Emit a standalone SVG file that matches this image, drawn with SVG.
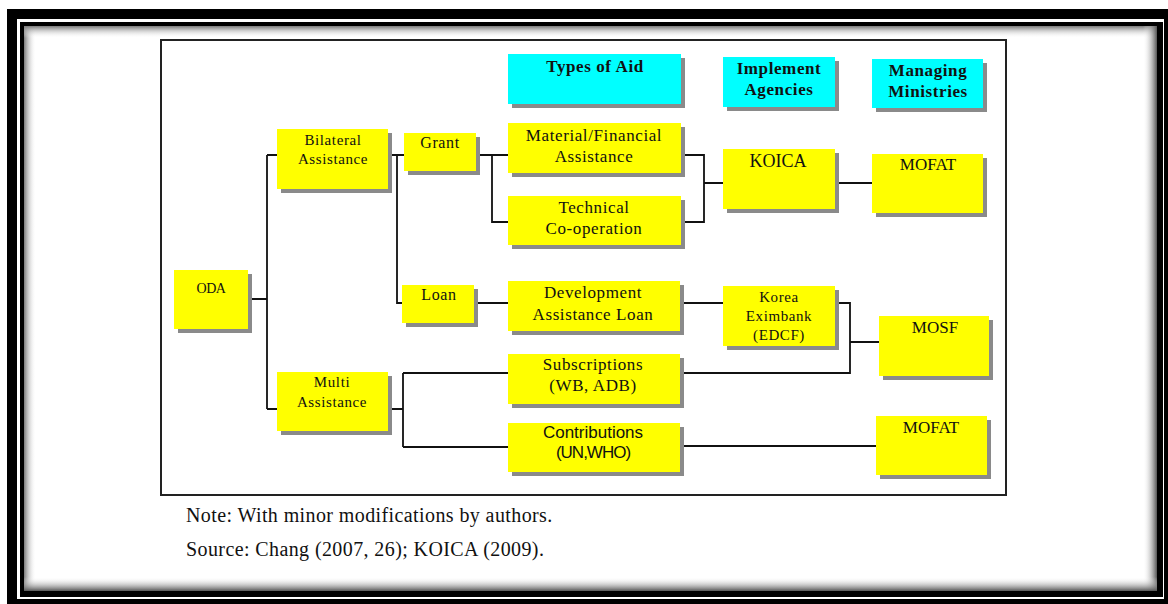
<svg xmlns="http://www.w3.org/2000/svg" width="1168" height="604" viewBox="0 0 1168 604">
<defs>
<linearGradient id="gL" x1="0" y1="0" x2="1" y2="0"><stop offset="0" stop-color="#7a7a7a"/><stop offset="1" stop-color="#fff" stop-opacity="0"/></linearGradient>
<linearGradient id="gT" x1="0" y1="0" x2="0" y2="1"><stop offset="0" stop-color="#7a7a7a"/><stop offset="1" stop-color="#fff" stop-opacity="0"/></linearGradient>
<linearGradient id="gR" x1="1" y1="0" x2="0" y2="0"><stop offset="0" stop-color="#555"/><stop offset="1" stop-color="#fff" stop-opacity="0"/></linearGradient>
<linearGradient id="gB" x1="0" y1="1" x2="0" y2="0"><stop offset="0" stop-color="#555"/><stop offset="1" stop-color="#fff" stop-opacity="0"/></linearGradient>
</defs>
<style>
.sh{fill:#8a8a8a}
.y{fill:#ffff00}
.c{fill:#00ffff}
.t{font-family:"Liberation Serif",serif;font-size:17px;letter-spacing:.6px;fill:#111;text-anchor:middle}
.s{font-family:"Liberation Serif",serif;font-size:15px;letter-spacing:.6px;fill:#111;text-anchor:middle}
.h{font-family:"Liberation Serif",serif;font-size:17px;font-weight:bold;letter-spacing:.6px;fill:#111;text-anchor:middle}
.a{font-family:"Liberation Sans",sans-serif;font-size:17px;fill:#111;text-anchor:middle}
.n{font-family:"Liberation Serif",serif;font-size:20px;letter-spacing:.4px;fill:#111}
.ln{fill:none;stroke:#111;stroke-width:1.8}
</style>
<g id="frame">
<rect x="7" y="9" width="1161" height="595" fill="#000"/>
<rect x="17" y="19" width="1147" height="580" fill="#fff"/>
<rect x="20" y="22" width="1143" height="575" fill="#000"/>
<rect x="24" y="26" width="1133" height="565" fill="#fff"/>
<rect x="24" y="26" width="12" height="565" fill="url(#gL)"/>
<rect x="24" y="26" width="1133" height="12" fill="url(#gT)"/>
<rect x="1143" y="26" width="14" height="565" fill="url(#gR)"/>
<rect x="24" y="577" width="1133" height="14" fill="url(#gB)"/>
<rect x="161" y="40" width="845" height="455" fill="#fff" stroke="#222" stroke-width="2"/>
</g>
<g id="connectors">
<path class="ln" d="M248,299H267M267,155V409M267,155H277M267,409H277"/>
<path class="ln" d="M388,155H404M397,155V303H402"/>
<path class="ln" d="M476,155H508M492,155V222H508"/>
<path class="ln" d="M681,155H704V222H681M704,183H723"/>
<path class="ln" d="M835,183H872"/>
<path class="ln" d="M474,303H508M680,303H723"/>
<path class="ln" d="M835,303H850V373H680M850,342H879"/>
<path class="ln" d="M388,409H403M403,373V447M403,373H508M403,447H508"/>
<path class="ln" d="M680,446H876"/>
</g>
<g id="types-of-aid"><rect class="sh" x="512" y="58" width="173" height="50"/><rect class="c" x="508" y="54" width="173" height="50"/><text class="h" x="595" y="72">Types of Aid</text></g>
<g id="implement-agencies"><rect class="sh" x="727" y="61" width="112" height="50"/><rect class="c" x="723" y="57" width="112" height="50"/><text class="h" x="779" y="74">Implement</text><text class="h" x="779" y="95">Agencies</text></g>
<g id="managing-ministries"><rect class="sh" x="876" y="63" width="111" height="49"/><rect class="c" x="872" y="59" width="111" height="49"/><text class="h" x="928" y="76">Managing</text><text class="h" x="928" y="97">Ministries</text></g>
<g id="bilateral"><rect class="sh" x="281" y="133" width="111" height="60"/><rect class="y" x="277" y="129" width="111" height="60"/><text class="s" x="333" y="145">Bilateral</text><text class="s" x="333" y="164">Assistance</text></g>
<g id="grant"><rect class="sh" x="408" y="137" width="72" height="38"/><rect class="y" x="404" y="133" width="72" height="38"/><text class="t" x="440" y="148" style="font-size:16px">Grant</text></g>
<g id="oda"><rect class="sh" x="178" y="274" width="74" height="59"/><rect class="y" x="174" y="270" width="74" height="59"/><text class="s" x="211" y="293" style="font-size:14px;letter-spacing:-.5px">ODA</text></g>
<g id="loan"><rect class="sh" x="406" y="289" width="72" height="38"/><rect class="y" x="402" y="285" width="72" height="38"/><text class="t" x="439" y="300" style="font-size:16px">Loan</text></g>
<g id="multi"><rect class="sh" x="281" y="376" width="111" height="59"/><rect class="y" x="277" y="372" width="111" height="59"/><text class="s" x="332" y="387">Multi</text><text class="s" x="332" y="407">Assistance</text></g>
<g id="material"><rect class="sh" x="512" y="127" width="173" height="50"/><rect class="y" x="508" y="123" width="173" height="50"/><text class="t" x="594" y="141">Material/Financial</text><text class="t" x="594" y="162">Assistance</text></g>
<g id="technical"><rect class="sh" x="512" y="200" width="173" height="49"/><rect class="y" x="508" y="196" width="173" height="49"/><text class="t" x="594" y="213">Technical</text><text class="t" x="594" y="234">Co-operation</text></g>
<g id="koica"><rect class="sh" x="727" y="153" width="112" height="60"/><rect class="y" x="723" y="149" width="112" height="60"/><text class="t" x="778" y="167" style="font-size:18px;letter-spacing:0">KOICA</text></g>
<g id="mofat1"><rect class="sh" x="876" y="158" width="111" height="59"/><rect class="y" x="872" y="154" width="111" height="59"/><text class="t" x="928" y="170" style="letter-spacing:0">MOFAT</text></g>
<g id="dev-loan"><rect class="sh" x="512" y="285" width="172" height="50"/><rect class="y" x="508" y="281" width="172" height="50"/><text class="t" x="593" y="298">Development</text><text class="t" x="593" y="320">Assistance Loan</text></g>
<g id="subscriptions"><rect class="sh" x="512" y="358" width="172" height="50"/><rect class="y" x="508" y="354" width="172" height="50"/><text class="t" x="593" y="370">Subscriptions</text><text class="t" x="593" y="391">(WB, ADB)</text></g>
<g id="contributions"><rect class="sh" x="512" y="427" width="172" height="49"/><rect class="y" x="508" y="423" width="172" height="49"/><text class="a" x="593" y="438">Contributions</text><text class="a" x="593" y="458" style="letter-spacing:-1px">(UN,WHO)</text></g>
<g id="eximbank"><rect class="sh" x="727" y="290" width="112" height="60"/><rect class="y" x="723" y="286" width="112" height="60"/><text class="s" x="779" y="302">Korea</text><text class="s" x="779" y="321">Eximbank</text><text class="s" x="779" y="340">(EDCF)</text></g>
<g id="mosf"><rect class="sh" x="883" y="320" width="110" height="60"/><rect class="y" x="879" y="316" width="110" height="60"/><text class="t" x="935" y="333" style="letter-spacing:0">MOSF</text></g>
<g id="mofat2"><rect class="sh" x="880" y="420" width="111" height="59"/><rect class="y" x="876" y="416" width="111" height="59"/><text class="t" x="931" y="433" style="letter-spacing:0">MOFAT</text></g>
<g id="notes">
<text class="n" x="186" y="522">Note: With minor modifications by authors.</text>
<text class="n" x="186" y="556">Source: Chang (2007, 26); KOICA (2009).</text>
</g>
</svg>
